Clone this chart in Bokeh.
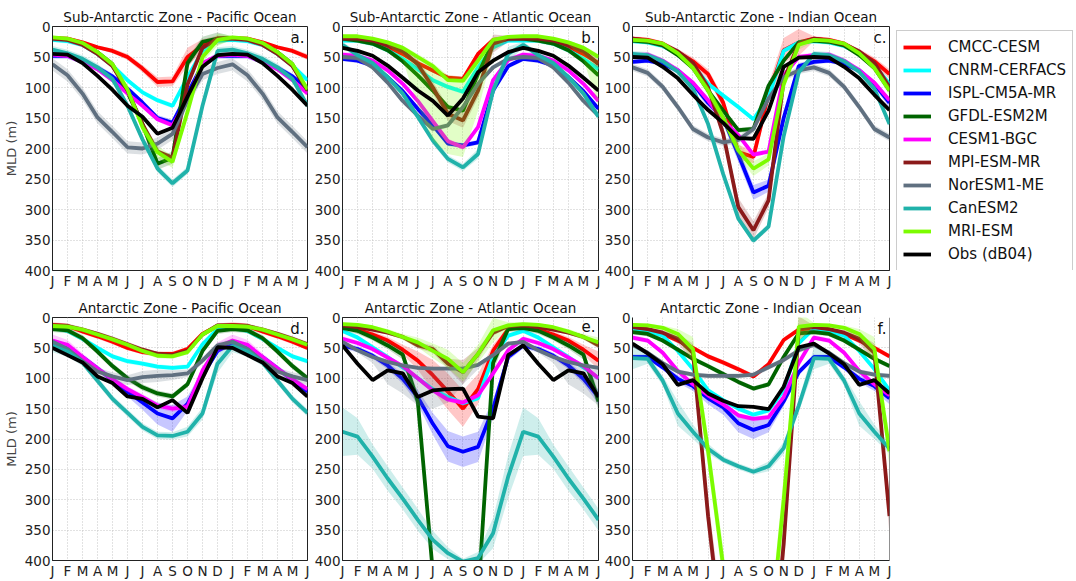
from bokeh.plotting import figure
from bokeh.models import Range1d, FixedTicker, Label, Legend, LegendItem, Span
from bokeh.layouts import row, column
from bokeh.embed import file_html
from bokeh.resources import INLINE

MONTH_LABELS = ["J", "F", "M", "A", "M", "J", "J", "A", "S", "O", "N", "D",
                "J", "F", "M", "A", "M", "J"]
MODELS = ["CMCC-CESM", "CNRM-CERFACS", "ISPL-CM5A-MR", "GFDL-ESM2M", "CESM1-BGC",
          "MPI-ESM-MR", "NorESM1-ME", "CanESM2", "MRI-ESM", "Obs (dB04)"]
COLORS = ["#ff0000", "#00ffff", "#0000ff", "#006400", "#ff00ff",
          "#8b1a1a", "#607080", "#20b2aa", "#7cfc00", "#000000"]

# Monthly MLD (m), Jan..Dec  (plot shows Jan..Dec then Jan..Jun again)
SAZ_PACIFIC = {
    "CMCC-CESM":    [19, 20, 26, 34, 40, 50, 69, 91, 90, 50, 31, 20],
    "CNRM-CERFACS": [22, 24, 30, 45, 64, 88, 108, 121, 130, 83, 40, 23],
    "ISPL-CM5A-MR": [48, 48, 57, 68, 82, 102, 125, 150, 158, 110, 62, 48],
    "GFDL-ESM2M":   [19, 21, 28, 42, 62, 108, 160, 225, 215, 60, 25, 20],
    "CESM1-BGC":    [46, 48, 58, 70, 88, 110, 130, 152, 162, 120, 60, 48],
    "MPI-ESM-MR":   [20, 22, 30, 45, 65, 105, 160, 205, 215, 95, 35, 20],
    "NorESM1-ME":   [62, 80, 110, 149, 173, 198, 200, 192, 176, 121, 78, 68],
    "CanESM2":      [38, 44, 53, 67, 86, 130, 185, 233, 257, 236, 130, 40],
    "MRI-ESM":      [18, 20, 27, 42, 62, 103, 165, 206, 222, 140, 50, 22],
    "Obs (dB04)":   [45, 46, 60, 81, 104, 130, 148, 176, 166, 115, 66, 47],
}
SAZ_ATLANTIC = {
    "CMCC-CESM":    [20, 20, 26, 34, 45, 60, 72, 84, 86, 45, 22, 20],
    "CNRM-CERFACS": [23, 23, 28, 39, 53, 70, 88, 99, 107, 67, 34, 23],
    "ISPL-CM5A-MR": [53, 56, 64, 83, 106, 135, 162, 192, 195, 190, 105, 65],
    "GFDL-ESM2M":   [20, 23, 28, 39, 57, 80, 105, 132, 138, 78, 25, 20],
    "CESM1-BGC":    [46, 48, 56, 72, 94, 122, 155, 188, 198, 165, 88, 55],
    "MPI-ESM-MR":   [20, 20, 23, 31, 40, 62, 100, 143, 154, 105, 28, 20],
    "NorESM1-ME":   [50, 52, 67, 92, 122, 146, 168, 162, 132, 94, 67, 53],
    "CanESM2":      [30, 47, 60, 83, 110, 148, 187, 217, 231, 209, 105, 45],
    "MRI-ESM":      [16, 16, 20, 26, 35, 50, 65, 88, 89, 56, 22, 17],
    "Obs (dB04)":   [35, 40, 48, 64, 84, 105, 122, 146, 118, 75, 56, 42],
}
SAZ_INDIAN = {
    "CMCC-CESM":    [20, 22, 28, 42, 57, 78, 125, 206, 214, 110, 39, 26],
    "CNRM-CERFACS": [24, 26, 32, 44, 64, 94, 113, 132, 152, 116, 40, 26],
    "ISPL-CM5A-MR": [58, 56, 61, 72, 94, 125, 150, 210, 272, 261, 150, 65],
    "GFDL-ESM2M":   [23, 25, 31, 47, 68, 105, 138, 170, 168, 97, 56, 26],
    "CESM1-BGC":    [47, 46, 56, 72, 92, 121, 154, 178, 210, 205, 80, 50],
    "MPI-ESM-MR":   [20, 23, 29, 41, 60, 100, 176, 296, 334, 285, 88, 28],
    "NorESM1-ME":   [67, 76, 99, 132, 168, 182, 190, 186, 168, 118, 83, 72],
    "CanESM2":      [45, 47, 57, 74, 102, 160, 242, 315, 351, 328, 180, 75],
    "MRI-ESM":      [22, 23, 28, 44, 68, 105, 150, 203, 233, 218, 95, 30],
    "Obs (dB04)":   [50, 51, 66, 85, 112, 137, 158, 183, 184, 138, 66, 51],
}
AZ_PACIFIC = {
    "CMCC-CESM":    [12, 14, 23, 31, 40, 50, 57, 60, 60, 52, 27, 14],
    "CNRM-CERFACS": [17, 22, 35, 50, 64, 72, 76, 81, 83, 81, 44, 19],
    "ISPL-CM5A-MR": [42, 49, 65, 84, 103, 122, 140, 158, 166, 142, 95, 55],
    "GFDL-ESM2M":   [19, 21, 34, 56, 80, 100, 115, 125, 130, 110, 55, 22],
    "CESM1-BGC":    [38, 45, 65, 84, 102, 118, 131, 145, 150, 147, 87, 49],
    "MPI-ESM-MR":   [13, 14, 20, 27, 35, 44, 53, 60, 62, 55, 28, 13],
    "NorESM1-ME":   [40, 52, 72, 89, 97, 103, 98, 96, 95, 92, 71, 46],
    "CanESM2":      [47, 56, 74, 104, 134, 157, 180, 194, 195, 188, 158, 76],
    "MRI-ESM":      [14, 15, 20, 28, 36, 45, 55, 63, 64, 57, 28, 14],
    "Obs (dB04)":   [50, 62, 74, 97, 108, 130, 134, 148, 136, 157, 100, 49],
}
AZ_ATLANTIC = {
    "CMCC-CESM":    [14, 20, 28, 38, 53, 71, 95, 122, 150, 118, 55, 19],
    "CNRM-CERFACS": [22, 33, 49, 65, 82, 100, 118, 131, 141, 133, 65, 30],
    "ISPL-CM5A-MR": [46, 52, 63, 79, 101, 131, 175, 212, 221, 213, 150, 65],
    "GFDL-ESM2M":   [17, 22, 33, 46, 61, 138, 420, 600, 650, 462, 75, 19],
    "CESM1-BGC":    [35, 42, 52, 66, 80, 100, 120, 135, 140, 128, 92, 54],
    "MPI-ESM-MR":   [13, 16, 20, 25, 32, 46, 52, 76, 90, 60, 25, 14],
    "NorESM1-ME":   [40, 54, 65, 73, 79, 83, 84, 84, 84, 78, 62, 43],
    "CanESM2":      [188, 196, 229, 265, 298, 333, 366, 388, 402, 396, 355, 262],
    "MRI-ESM":      [11, 12, 16, 23, 32, 41, 55, 68, 90, 60, 21, 13],
    "Obs (dB04)":   [46, 76, 103, 87, 92, 131, 120, 118, 117, 163, 166, 62],
}
AZ_INDIAN = {
    "CMCC-CESM":    [17, 20, 27, 38, 50, 64, 74, 85, 97, 77, 37, 20],
    "CNRM-CERFACS": [18, 22, 30, 55, 85, 120, 136, 150, 160, 153, 120, 42],
    "ISPL-CM5A-MR": [65, 65, 82, 101, 113, 133, 148, 174, 185, 177, 138, 90],
    "GFDL-ESM2M":   [24, 27, 38, 53, 68, 80, 93, 106, 117, 110, 65, 26],
    "CESM1-BGC":    [33, 38, 58, 88, 110, 128, 143, 161, 167, 164, 131, 75],
    "MPI-ESM-MR":   [16, 19, 25, 35, 58, 327, 540, 700, 700, 643, 373, 18],
    "NorESM1-ME":   [45, 58, 75, 89, 94, 96, 96, 96, 94, 82, 70, 54],
    "CanESM2":      [67, 68, 104, 158, 188, 216, 234, 245, 254, 245, 215, 145],
    "MRI-ESM":      [12, 13, 17, 27, 52, 220, 410, 600, 600, 550, 300, 15],
    "Obs (dB04)":   [43, 59, 77, 111, 103, 125, 137, 146, 147, 151, 114, 49],
}

# Ensemble spread half-widths (m); default 4, Obs none
BAND_A = {"CMCC-CESM": [3, 3, 3, 3, 4, 5, 6, 8, 8, 15, 10, 5], "NorESM1-ME": 10, "CanESM2": 6,
          "GFDL-ESM2M": [3, 3, 3, 4, 5, 6, 8, 10, 10, 8, 8, 10], "MRI-ESM": [3, 3, 3, 4, 5, 6, 8, 10, 10, 8, 8, 10],
          "ISPL-CM5A-MR": 5}
BAND_B = {"MPI-ESM-MR": [3, 3, 3, 3, 5, 8, 10, 12, 12, 12, 15, 5],
          "CanESM2": [5, 5, 5, 5, 5, 6, 6, 6, 6, 8, 10, 12]}
BAND_B_MRI_LO = [14, 14, 18, 23, 31, 45, 60, 80, 83, 50, 18, 14]
BAND_B_MRI_HI = [19, 19, 23, 30, 55, 130, 187, 209, 214, 138, 40, 20]
BAND_C = {"CMCC-CESM": [4, 4, 4, 5, 6, 8, 10, 12, 10, 15, 20, 22], "MPI-ESM-MR": [3, 3, 3, 4, 6, 8, 10, 15, 15, 12, 8, 4],
          "ISPL-CM5A-MR": [4, 4, 4, 5, 6, 8, 10, 12, 12, 10, 8, 5], "MRI-ESM": [3, 3, 3, 4, 6, 8, 10, 12, 12, 10, 8, 8],
          "NorESM1-ME": 6, "CanESM2": 5}
BAND_D = {"ISPL-CM5A-MR": [4, 4, 4, 5, 6, 8, 12, 18, 22, 12, 8, 5], "NorESM1-ME": [4, 4, 5, 6, 7, 8, 10, 10, 8, 6, 5, 5],
          "CanESM2": [10, 8, 6, 6, 6, 6, 6, 6, 6, 8, 10, 15], "CESM1-BGC": [10, 8, 6, 5, 5, 5, 5, 5, 5, 5, 5, 8],
          "GFDL-ESM2M": 5}
BAND_E = {"CMCC-CESM": [4, 4, 5, 6, 8, 15, 25, 30, 30, 25, 10, 4], "ISPL-CM5A-MR": [5, 5, 5, 6, 8, 12, 18, 25, 25, 25, 15, 6],
          "CanESM2": [40, 30, 20, 20, 18, 18, 15, 10, 5, 10, 25, 35], "MRI-ESM": [3, 3, 3, 4, 5, 8, 12, 15, 15, 15, 20, 5],
          "GFDL-ESM2M": [5, 5, 5, 6, 8, 15, 20, 20, 20, 20, 15, 5], "MPI-ESM-MR": [3, 3, 3, 3, 4, 5, 6, 8, 20, 10, 5, 3]}
BAND_E_NOR_LO = [37, 51, 62, 70, 76, 80, 81, 81, 81, 75, 59, 40]
BAND_E_NOR_HI = [45, 58, 75, 110, 125, 145, 150, 140, 110, 85, 65, 48]
BAND_F = {"MPI-ESM-MR": [3, 3, 4, 8, 15, 30, 40, 40, 40, 40, 40, 20], "MRI-ESM": [3, 3, 4, 8, 20, 25, 30, 30, 30, 30, 40, 25],
          "CanESM2": [18, 8, 8, 20, 12, 8, 5, 5, 5, 8, 10, 10], "ISPL-CM5A-MR": [4, 4, 5, 6, 8, 10, 12, 15, 15, 12, 8, 5]}

FONT = "DejaVu Sans"
X = list(range(18))
LW = 3.8


def ext(v):
    return list(v) + list(v[:6])


def make_panel(title, letter, data, bands, ranges, width, left, right, height, top, bottom,
               ylabel, open_top=False):
    p = figure(width=width, height=height, x_range=Range1d(0, 17), y_range=Range1d(400, 0),
               output_backend="svg", toolbar_location=None,
               min_border_left=left, min_border_right=right,
               min_border_top=top, min_border_bottom=bottom)
    p.title.text = title
    p.title.align = "center"
    p.title.text_font = FONT
    p.title.text_font_size = "13.5px"
    p.title.text_font_style = "normal"
    p.title.text_color = "#111111"
    p.title.standoff = 4
    p.xaxis.ticker = FixedTicker(ticks=X)
    p.xaxis.major_label_overrides = {i: lab for i, lab in enumerate(MONTH_LABELS)}
    p.yaxis.ticker = FixedTicker(ticks=list(range(0, 401, 50)))
    p.axis.major_tick_line_color = None
    p.axis.minor_tick_line_color = None
    p.axis.major_tick_out = 0
    p.axis.major_tick_in = 0
    p.axis.minor_tick_out = 0
    p.axis.minor_tick_in = 0
    p.axis.axis_line_color = "#222222"
    p.axis.major_label_text_font = FONT
    p.axis.major_label_text_font_size = "13.5px"
    p.axis.major_label_text_color = "#222222"
    p.axis.major_label_standoff = 2
    if ylabel:
        p.yaxis.axis_label = "MLD (m)"
        p.yaxis.axis_label_text_font = FONT
        p.yaxis.axis_label_text_font_size = "13px"
        p.yaxis.axis_label_text_font_style = "normal"
        p.yaxis.axis_label_standoff = 3
    p.grid.grid_line_color = "#c4c4c4"
    p.grid.grid_line_dash = "1 2"
    p.grid.grid_line_width = 1
    if open_top:
        p.outline_line_color = None
        p.add_layout(Span(location=17, dimension="height", line_color="#222222", line_width=1))
    else:
        p.outline_line_color = "#222222"
        p.outline_line_alpha = 1
    for m, c in zip(MODELS, COLORS):
        y = data[m]
        if m in ranges:
            lo, hi = ranges[m]
            p.varea(x=X, y1=ext(lo), y2=ext(hi), fill_color=c, fill_alpha=0.22)
        elif m != "Obs (dB04)":
            b = bands.get(m, 4)
            bb = b if isinstance(b, list) else [b] * 12
            lo = [v - w for v, w in zip(y, bb)]
            hi = [v + w for v, w in zip(y, bb)]
            p.varea(x=X, y1=ext(lo), y2=ext(hi), fill_color=c, fill_alpha=0.22)
        p.line(X, ext(y), line_color=c, line_width=LW)
    p.add_layout(Label(x=17, y=0, text=letter, text_align="right", text_baseline="top",
                       x_offset=-3, y_offset=-2, text_font=FONT, text_font_size="15px",
                       text_color="#111111"))
    return p


H1, T1, B1 = 293, 26, 23
H2, T2, B2 = 288, 24, 20

pa = make_panel("Sub-Antarctic Zone - Pacific Ocean", "a.", SAZ_PACIFIC, BAND_A, {}, 310, 52, 3, H1, T1, B1, True)
pb = make_panel("Sub-Antarctic Zone - Atlantic Ocean", "b.", SAZ_ATLANTIC, BAND_B,
                {"MRI-ESM": (BAND_B_MRI_LO, BAND_B_MRI_HI)}, 291, 32, 3, H1, T1, B1, False)
pc = make_panel("Sub-Antarctic Zone - Indian Ocean", "c.", SAZ_INDIAN, BAND_C, {}, 291, 31, 3, H1, T1, B1, False)
pd = make_panel("Antarctic Zone - Pacific Ocean", "d.", AZ_PACIFIC, BAND_D, {}, 310, 52, 3, H2, T2, B2, True)
pe = make_panel("Antarctic Zone - Atlantic Ocean", "e.", AZ_ATLANTIC, BAND_E,
                {"NorESM1-ME": (BAND_E_NOR_LO, BAND_E_NOR_HI)}, 291, 32, 3, H2, T2, B2, False)
pf = make_panel("Antarctic Zone - Indian Ocean", "f.", AZ_INDIAN, BAND_F, {}, 291, 31, 3, H2, T2, B2, False,
                open_top=True)

leg = figure(width=184, height=H1, x_range=Range1d(0, 1), y_range=Range1d(0, 1),
             output_backend="svg", toolbar_location=None,
             x_axis_location=None, y_axis_location=None,
             min_border_left=0, min_border_right=0, min_border_top=21, min_border_bottom=0)
leg.grid.visible = False
leg.outline_line_color = None
items = []
for m, c in zip(MODELS, COLORS):
    r = leg.line([5, 6], [5, 6], line_color=c, line_width=LW)
    items.append(LegendItem(label=m, renderers=[r]))
legend = Legend(items=items, location="top_left", margin=4, padding=6, spacing=3,
                glyph_width=28, glyph_height=20, label_height=20, label_standoff=17,
                label_text_font=FONT, label_text_font_size="15px", label_text_color="#111111",
                border_line_color="#999999", border_line_width=1, background_fill_color="white")
leg.add_layout(legend)

layout = column(row(pa, pb, pc, leg), row(pd, pe, pf))
open("out.html", "w").write(file_html(layout, INLINE))
